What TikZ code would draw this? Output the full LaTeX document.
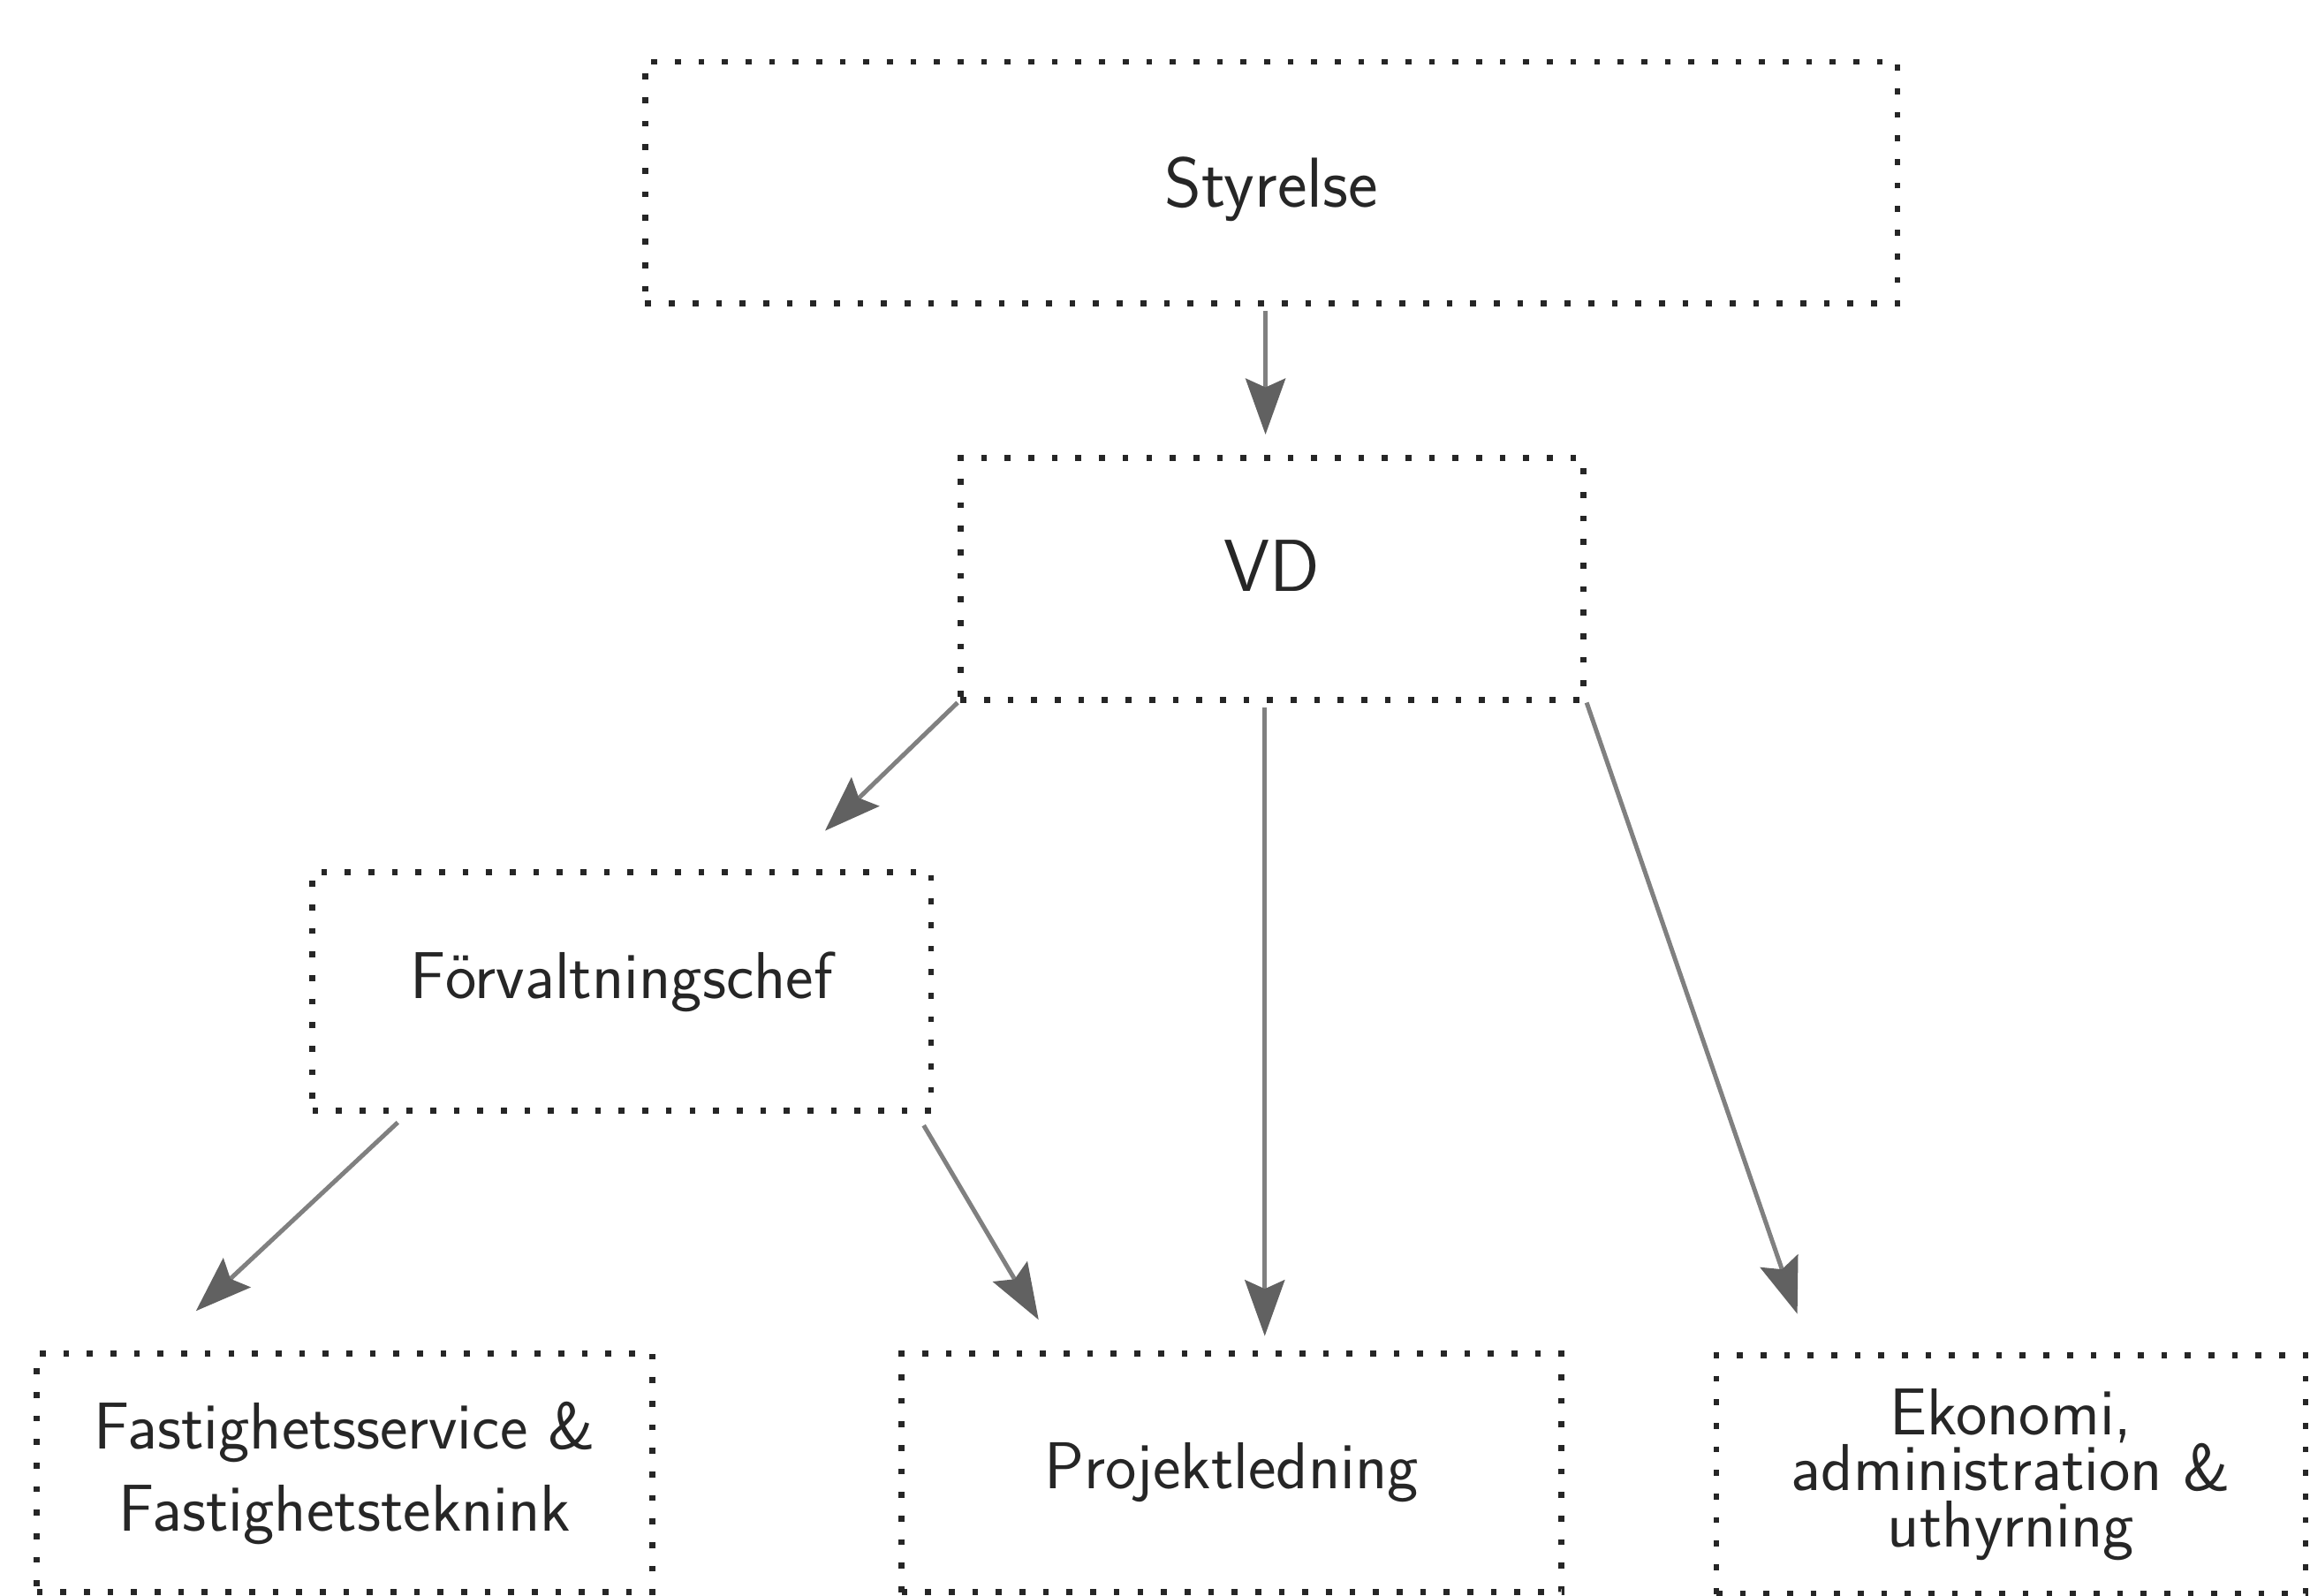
\documentclass[tikz,border=0pt]{standalone}
\usetikzlibrary{arrows.meta,calc}
\begin{document}
\begin{tikzpicture}[x=1pt,y=1pt,
  box/.style={draw=black!85, line width=4pt, dash pattern=on 4pt off 12pt,
    inner sep=0pt, align=center, text=black!85,
    font=\sffamily\fontsize{45}{38}\selectfont},
  big/.style={font=\sffamily\fontsize{48}{48}\selectfont},
  conn/.style={draw=black!50, line width=3pt,
    -{Stealth[length=38pt,width=27pt,inset=6pt,color=black!62,fill=black!62]}}]
\useasboundingbox (0,0) rectangle (1568,-1083);
\fill[white] (0,0) rectangle (1568,-1083);
\node[box, big, text height=33pt, text depth=0pt, minimum width=850pt, minimum height=164pt] (sty) at (863,-124) {Styrelse};
\node[box, font=\sffamily\fontsize{50}{50}\selectfont, text height=34.7pt, text depth=18pt, minimum width=423pt, minimum height=164pt] (vd) at (863.5,-393) {VD};
\node[box, text height=31.2pt, text depth=22pt, minimum width=420pt, minimum height=162pt] (forv) at (422,-673) {Förvaltningschef};
\node[box, font=\sffamily\fontsize{45}{56}\selectfont, minimum width=418pt, minimum height=162pt] (fast) at (234,-1000) {Fastighetsservice \&\\Fastighetsteknink};
\node[box, text height=31.2pt, text depth=10pt, minimum width=448pt, minimum height=162pt] (proj) at (836,-1000) {Projektledning};
\node[box, minimum width=400pt, minimum height=162pt] (eko) at (1365,-1001) {Ekonomi,\\administration \&\\uthyrning};
\draw[conn] ([xshift=-4pt,yshift=-3pt]sty.south) -- ([xshift=-4.5pt,yshift=14pt]vd.north);
\draw[conn] (vd.south west) -- ([xshift=138pt,yshift=26pt]forv.north);
\draw[conn] ([xshift=-5pt,yshift=-3pt]vd.south) -- ([xshift=22.5pt,yshift=10pt]proj.north);
\draw[conn] (vd.south east) -- ([xshift=-145pt,yshift=26pt]eko.north);
\draw[conn] ([xshift=-152pt,yshift=-6pt]forv.south) -- ([xshift=-101pt,yshift=27pt]fast.north);
\draw[conn] ([xshift=-7pt,yshift=-8pt]forv.south east) -- ([xshift=-131pt,yshift=21pt]proj.north);
\end{tikzpicture}
\end{document}
